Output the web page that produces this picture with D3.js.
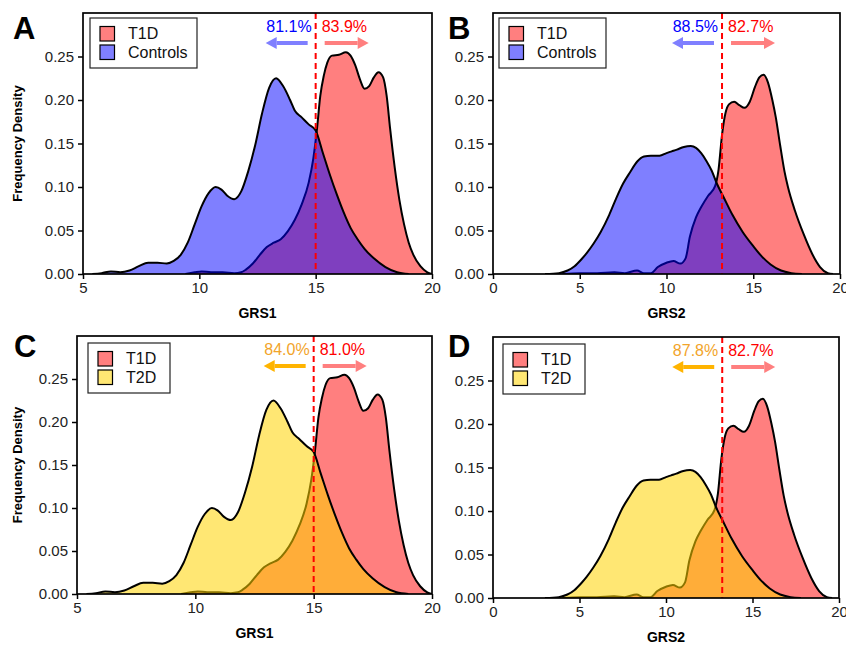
<!DOCTYPE html>
<html>
<head>
<meta charset="utf-8">
<script src="https://cdn.jsdelivr.net/npm/d3@7"></script>
<style>
  body { margin: 0; background: #fff; }
  svg { display: block; font-family: "Liberation Sans", Arial, sans-serif; }
</style>
</head>
<body>
<svg id="chart" width="846" height="645"></svg>
<script>
// density curves, [score, density]
const grs1T1D = [[9.4,0],[9.8,0.002],[10.1,0.003],[10.5,0.002],[11.0,0.002],[11.5,0.001],[11.8,0.002],[12.0,0.005],
  [12.3,0.012],[12.6,0.022],[12.9,0.031],[13.2,0.036],[13.5,0.040],[13.8,0.049],[14.1,0.062],[14.4,0.080],[14.7,0.105],
  [14.9,0.133],[15.05,0.165],[15.2,0.205],[15.35,0.228],[15.5,0.243],[15.7,0.251],[16.0,0.252],[16.3,0.255],[16.5,0.251],
  [16.7,0.240],[16.9,0.224],[17.1,0.213],[17.3,0.216],[17.5,0.226],[17.7,0.232],[17.9,0.226],[18.05,0.205],[18.2,0.167],
  [18.4,0.122],[18.6,0.085],[18.8,0.057],[19.0,0.036],[19.2,0.022],[19.5,0.009],[19.8,0.002],[20.0,0]];
const grs1Controls = [[5.4,0],[5.8,0.001],[6.2,0.003],[6.6,0.002],[7.0,0.004],[7.4,0.009],[7.8,0.013],[8.2,0.013],
  [8.6,0.012],[8.9,0.015],[9.2,0.022],[9.5,0.036],[9.8,0.057],[10.1,0.078],[10.4,0.093],[10.7,0.100],[10.95,0.097],
  [11.2,0.090],[11.5,0.086],[11.8,0.095],[12.1,0.118],[12.4,0.148],[12.7,0.185],[13.0,0.214],[13.3,0.225],[13.6,0.216],
  [13.9,0.200],[14.1,0.188],[14.4,0.180],[14.7,0.172],[15.0,0.165],[15.3,0.140],[15.6,0.115],[15.9,0.092],[16.2,0.071],
  [16.5,0.053],[16.8,0.040],[17.1,0.029],[17.5,0.018],[18.0,0.008],[18.5,0.002],[19.0,0]];
const grs1T2D = [[5.4,0],[5.8,0.001],[6.2,0.003],[6.6,0.002],[7.0,0.004],[7.4,0.009],[7.8,0.013],[8.2,0.013],
  [8.6,0.012],[8.9,0.015],[9.2,0.022],[9.5,0.036],[9.8,0.057],[10.1,0.078],[10.4,0.093],[10.7,0.100],[10.95,0.097],
  [11.2,0.090],[11.5,0.086],[11.8,0.095],[12.1,0.118],[12.4,0.148],[12.7,0.185],[13.0,0.214],[13.3,0.225],[13.6,0.216],
  [13.9,0.200],[14.1,0.188],[14.4,0.180],[14.7,0.172],[15.0,0.165],[15.3,0.140],[15.6,0.115],[15.9,0.092],[16.2,0.071],
  [16.5,0.053],[16.8,0.040],[17.1,0.029],[17.5,0.018],[18.0,0.008],[18.5,0.002],[19.0,0]];
const grs2T1D = [[4.0,0],[5.0,0.001],[6.0,0.001],[7.0,0.002],[7.6,0.001],[8.3,0.004],[8.7,0.001],[9.1,0.001],
  [9.5,0.008],[10.0,0.013],[10.4,0.015],[10.8,0.012],[11.1,0.018],[11.35,0.043],[11.7,0.065],[12.0,0.077],[12.4,0.090],
  [12.8,0.101],[13.0,0.120],[13.2,0.160],[13.4,0.185],[13.6,0.195],[13.9,0.198],[14.2,0.194],[14.5,0.191],[14.8,0.198],
  [15.1,0.215],[15.35,0.226],[15.6,0.229],[15.85,0.220],[16.1,0.200],[16.3,0.180],[16.55,0.148],[16.8,0.118],[17.0,0.100],
  [17.4,0.073],[17.9,0.046],[18.4,0.023],[18.85,0.008],[19.3,0.001],[19.6,0]];
const grs2Controls = [[3.0,0],[3.8,0.001],[4.3,0.004],[4.7,0.009],[5.1,0.017],[5.4,0.024],[5.8,0.035],[6.2,0.048],
  [6.7,0.068],[7.1,0.087],[7.5,0.104],[7.9,0.117],[8.3,0.129],[8.7,0.135],[9.1,0.136],[9.6,0.136],[10.0,0.139],
  [10.3,0.141],[10.6,0.143],[11.0,0.146],[11.4,0.147],[11.7,0.145],[12.0,0.139],[12.3,0.130],[12.6,0.119],[12.9,0.104],
  [13.3,0.088],[13.8,0.068],[14.4,0.048],[15.0,0.032],[15.5,0.020],[16.0,0.011],[16.6,0.004],[17.2,0.001],[17.8,0]];
const grs2T2D = [[3.0,0],[3.8,0.001],[4.3,0.004],[4.7,0.009],[5.1,0.017],[5.4,0.024],[5.8,0.035],[6.2,0.048],
  [6.7,0.068],[7.1,0.087],[7.5,0.104],[7.9,0.117],[8.3,0.129],[8.7,0.135],[9.1,0.136],[9.6,0.136],[10.0,0.139],
  [10.3,0.141],[10.6,0.143],[11.0,0.146],[11.4,0.147],[11.7,0.145],[12.0,0.139],[12.3,0.130],[12.6,0.119],[12.9,0.104],
  [13.3,0.088],[13.8,0.068],[14.4,0.048],[15.0,0.032],[15.5,0.020],[16.0,0.011],[16.6,0.004],[17.2,0.001],[17.8,0]];

const panelTags = ["A", "B", "C", "D"];
const scoreNames = ["GRS1", "GRS2", "GRS1", "GRS2"];
const groupNames = [["T1D", "Controls"], ["T1D", "Controls"], ["T1D", "T2D"], ["T1D", "T2D"]];
const curves = [[grs1T1D, grs1Controls], [grs2T1D, grs2Controls], [grs1T1D, grs1T2D], [grs2T1D, grs2T2D]];
const cutoffs = [15.0, 13.2, 15.0, 13.25];
const leftPct = ["81.1%", "88.5%", "84.0%", "87.8%"];
const rightPct = ["83.9%", "82.7%", "81.0%", "82.7%"];
const xDomains = [[5, 20], [0, 20], [5, 20], [0, 20]];
const xTicks = [[5, 10, 15, 20], [0, 5, 10, 15, 20], [5, 10, 15, 20], [0, 5, 10, 15, 20]];
const yTicks = [0, 0.05, 0.10, 0.15, 0.20, 0.25];

// look of each group
const style = {
  "T1D":      {fill: "#FF0000", op: 0.5,  arrow: "#FF7F7F", text: "#FF0000"},
  "Controls": {fill: "#0000FF", op: 0.5,  arrow: "#7F7FFF", text: "#0000FF"},
  "T2D":      {fill: "#FFD400", op: 0.55, arrow: "#FFB400", text: "#F2A42A"}
};

// where each panel sits on the page
const layout = [
  {left: 83,  right: 432, top: 13,  bottom: 274, tagX: 13,  tagY: 39,  legX: 90,  legY: 18,  legW: 107, yTitle: true},
  {left: 493, right: 840, top: 13,  bottom: 274, tagX: 448, tagY: 39,  legX: 499, legY: 18,  legW: 107, yTitle: false},
  {left: 77,  right: 432, top: 336, bottom: 594, tagX: 14,  tagY: 357, legX: 88,  legY: 343, legW: 82,  yTitle: true},
  {left: 493, right: 839, top: 337, bottom: 598, tagX: 448, tagY: 357, legX: 503, legY: 344, legW: 82,  yTitle: false}
];

const svg = d3.select("#chart");
svg.append("rect").attr("width", 846).attr("height", 645).attr("fill", "#fff");

function arrow(g, x1, x2, y, color) {
  // shaft from x1 to the head base, head points at x2
  let dir = x2 > x1 ? 1 : -1, head = 11, half = 6;
  g.append("line")
    .attr("x1", x1).attr("x2", x2 - dir * head)
    .attr("y1", y).attr("y2", y)
    .attr("stroke", color).attr("stroke-width", 4);
  g.append("path")
    .attr("d", "M" + x2 + "," + y + "L" + (x2 - dir * head) + "," + (y - half) + "L" + (x2 - dir * head) + "," + (y + half) + "Z")
    .attr("fill", color);
}

panelTags.forEach(function(tag, i) {
  let L = layout[i];
  let x = d3.scaleLinear().domain(xDomains[i]).range([L.left, L.right]);
  let y = d3.scaleLinear().domain([0, 0.3]).range([L.bottom, L.top]);
  let g = svg.append("g").attr("class", "panel-" + tag);

  g.append("clipPath").attr("id", "clip" + tag)
    .append("rect").attr("x", L.left).attr("y", L.top)
    .attr("width", L.right - L.left).attr("height", L.bottom - L.top);

  let area = d3.area().x(d => x(d[0])).y0(y(0)).y1(d => y(d[1])).curve(d3.curveMonotoneX);
  let line = d3.line().x(d => x(d[0])).y(d => y(d[1])).curve(d3.curveMonotoneX);

  let plot = g.append("g").attr("clip-path", "url(#clip" + tag + ")");
  groupNames[i].forEach(function(name, k) {
    let s = style[name];
    plot.append("path").datum(curves[i][k])
      .attr("d", area).attr("fill", s.fill).attr("fill-opacity", s.op);
    plot.append("path").datum(curves[i][k])
      .attr("d", line).attr("fill", "none").attr("stroke", "#000")
      .attr("stroke-width", 2).attr("stroke-linejoin", "round");
  });

  // cut-off line
  g.append("line")
    .attr("x1", x(cutoffs[i])).attr("x2", x(cutoffs[i]))
    .attr("y1", L.top).attr("y2", L.bottom)
    .attr("stroke", "#FF0000").attr("stroke-width", 2).attr("stroke-dasharray", "6,4");

  // axes
  let yAxis = g.append("g").attr("transform", "translate(" + L.left + ",0)")
    .call(d3.axisLeft(y).tickValues(yTicks).tickFormat(d3.format(".2f")).tickSize(5).tickPadding(4));
  let xAxis = g.append("g").attr("transform", "translate(0," + L.bottom + ")")
    .call(d3.axisBottom(x).tickValues(xTicks[i]).tickFormat(d3.format("d")).tickSize(5).tickPadding(3));
  [yAxis, xAxis].forEach(function(a) {
    a.select(".domain").remove();
    a.selectAll(".tick line").attr("stroke", "#000").attr("stroke-width", 1.5);
    a.selectAll(".tick text").attr("font-size", 15).attr("fill", "#222")
      .attr("font-family", "'Liberation Sans', Arial, sans-serif");
  });

  g.append("rect")
    .attr("x", L.left).attr("y", L.top)
    .attr("width", L.right - L.left).attr("height", L.bottom - L.top)
    .attr("fill", "none").attr("stroke", "#000").attr("stroke-width", 1.7);

  // axis titles
  g.append("text")
    .attr("x", (L.left + L.right) / 2).attr("y", L.bottom + 44)
    .attr("text-anchor", "middle").attr("font-weight", "bold").attr("font-size", 14)
    .text(scoreNames[i]);
  if (L.yTitle) {
    g.append("text")
      .attr("transform", "translate(22," + ((L.top + L.bottom) / 2) + ") rotate(-90)")
      .attr("text-anchor", "middle").attr("font-weight", "bold").attr("font-size", 13)
      .text("Frequency Density");
  }

  // panel letter
  g.append("text")
    .attr("x", L.tagX).attr("y", L.tagY)
    .attr("font-weight", "bold").attr("font-size", 31)
    .text(tag);

  // legend
  let leg = g.append("g").attr("transform", "translate(" + L.legX + "," + L.legY + ")");
  leg.append("rect").attr("width", L.legW).attr("height", 50)
    .attr("fill", "#fff").attr("stroke", "#222").attr("stroke-width", 1.2);
  groupNames[i].forEach(function(name, k) {
    let s = style[name];
    leg.append("rect").attr("x", 10).attr("y", 8.5 + k * 18.5).attr("width", 14.5).attr("height", 14.5)
      .attr("fill", "#fff").attr("stroke", "none");
    leg.append("rect").attr("x", 10).attr("y", 8.5 + k * 18.5).attr("width", 14.5).attr("height", 14.5)
      .attr("fill", s.fill).attr("fill-opacity", s.op).attr("stroke", "#000").attr("stroke-width", 1.2);
    leg.append("text").attr("x", 38).attr("y", 21 + k * 18.5)
      .attr("font-size", 16).attr("fill", "#111").text(name);
  });

  // percentages and arrows
  let cx = x(cutoffs[i]);
  let other = style[groupNames[i][1]], t1d = style["T1D"];
  g.append("text").attr("x", cx - 4).attr("y", L.top + 19)
    .attr("text-anchor", "end").attr("font-size", 16).attr("fill", other.text)
    .text(leftPct[i]);
  g.append("text").attr("x", cx + 6).attr("y", L.top + 19)
    .attr("text-anchor", "start").attr("font-size", 16).attr("fill", t1d.text)
    .text(rightPct[i]);
  arrow(g, cx - 8, cx - 50, L.top + 30, other.arrow);
  arrow(g, cx + 9, cx + 53, L.top + 30, t1d.arrow);
});
</script>
</body>
</html>
